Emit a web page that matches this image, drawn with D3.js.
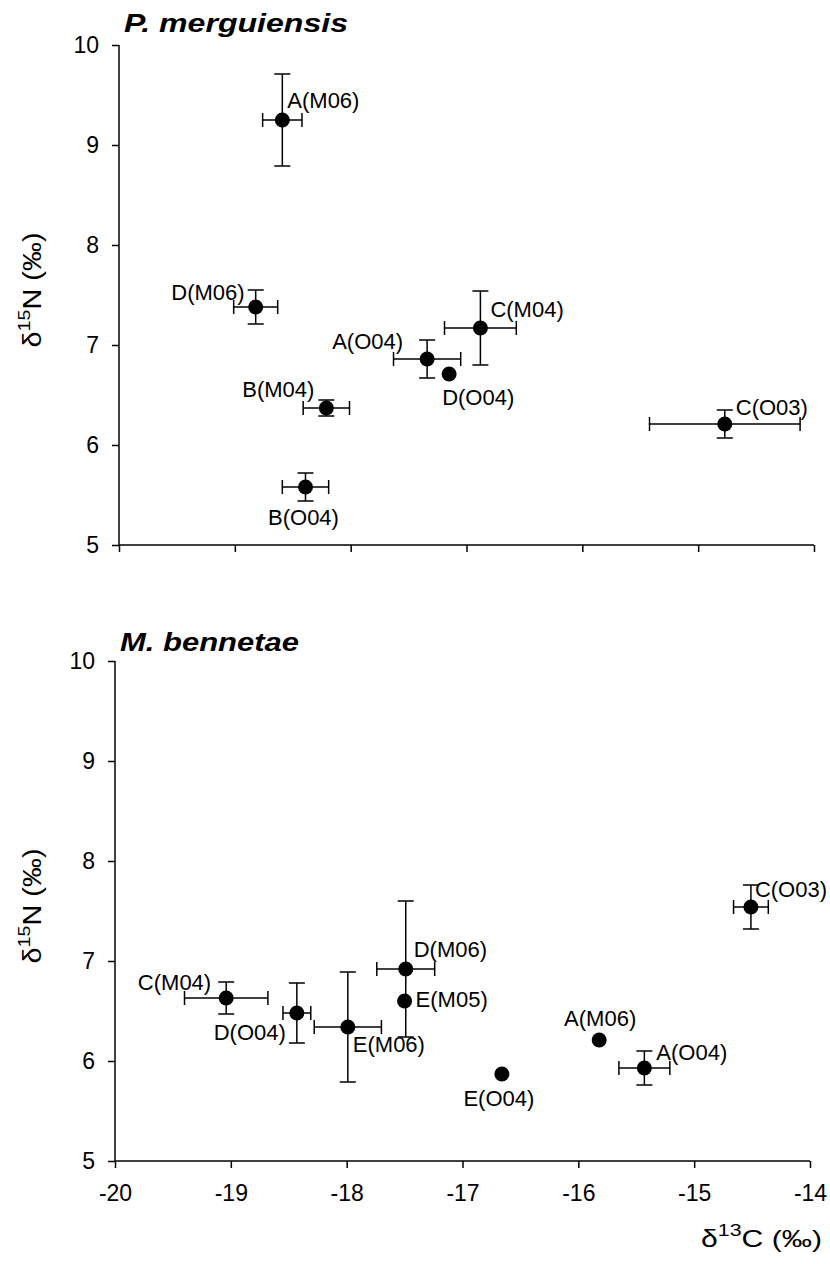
<!DOCTYPE html>
<html>
<head>
<meta charset="utf-8">
<script src="https://cdn.jsdelivr.net/npm/d3@7"></script>
<style>
  html, body { margin: 0; padding: 0; background: #fff; }
  svg { display: block; }
  text { font-family: "Liberation Sans", Arial, Helvetica, sans-serif; fill: #000; }
</style>
</head>
<body>
<svg id="chart" width="830" height="1264"></svg>
<script>
// ---------- Data ----------
const xTicks = [-20, -19, -18, -17, -16, -15, -14];
const yTicks = [5, 6, 7, 8, 9, 10];

// Panel 1: P. merguiensis
const pmLabels = ["A(M06)", "D(M06)", "B(M04)", "B(O04)", "A(O04)", "D(O04)", "C(M04)", "C(O03)"];
const pmC13    = [-18.59, -18.82, -18.21, -18.39, -17.34, -17.15, -16.88, -14.77];
const pmN15    = [9.25, 7.38, 6.37, 5.58, 6.86, 6.71, 7.17, 6.21];
const pmC13Err = [0.17, 0.19, 0.20, 0.20, 0.29, 0, 0.31, 0.65];
const pmN15Err = [0.46, 0.17, 0.08, 0.14, 0.19, 0, 0.37, 0.14];

// Panel 2: M. bennetae
const mbLabels = ["C(M04)", "D(O04)", "E(M06)", "D(M06)", "E(M05)", "E(O04)", "A(M06)", "A(O04)", "C(O03)"];
const mbC13    = [-19.04, -18.43, -17.99, -17.49, -17.50, -16.66, -15.82, -15.43, -14.51];
const mbN15    = [6.63, 6.48, 6.34, 6.92, 6.60, 5.87, 6.21, 5.93, 7.54];
const mbC13Err = [0.36, 0.12, 0.29, 0.25, 0, 0, 0, 0.22, 0.15];
const mbN15Err = [0.16, 0.30, 0.55, 0.68, 0, 0, 0, 0.17, 0.22];

// ---------- Label placement (layout only) ----------
const pmLabelPos = [
  {dx: 5, dy: -12, a: "start"}, {dx: -11, dy: -7, a: "end"}, {dx: -12, dy: -11, a: "end"},
  {dx: -2, dy: 38, a: "middle"}, {dx: -24, dy: -10, a: "end"}, {dx: -7, dy: 31, a: "start"},
  {dx: 10, dy: -11, a: "start"}, {dx: 11, dy: -9, a: "start"}
];
const mbLabelPos = [
  {dx: -15, dy: -8, a: "end"}, {dx: -11, dy: 27, a: "end"}, {dx: 5, dy: 25, a: "start"},
  {dx: 8, dy: -12, a: "start"}, {dx: 11, dy: 6, a: "start"}, {dx: -3, dy: 32, a: "middle"},
  {dx: 1, dy: -14, a: "middle"}, {dx: 12, dy: -8, a: "start"}, {dx: 9, dy: -10, a: "start"}
];

// ---------- Drawing ----------
const W = 830;
const svg = d3.select("#chart");
const tickFont = 23, labelFont = 22;

function panel(cfg) {
  const x = d3.scaleLinear().domain([-20, -14]).range([cfg.left, cfg.right]);
  const y = d3.scaleLinear().domain([5, 10]).range([cfg.bottom, cfg.top]);
  const g = svg.append("g");

  // y axis
  const yAxis = g.append("g").attr("transform", `translate(${cfg.left},0)`)
    .call(d3.axisLeft(y).tickValues(yTicks).tickSize(7).tickPadding(13).tickFormat(d3.format("d")));
  yAxis.select(".domain").attr("d", `M0,${cfg.top}V${cfg.bottom}`);
  // x axis
  const xAxis = g.append("g").attr("transform", `translate(0,${cfg.bottom})`)
    .call(d3.axisBottom(x).tickValues(xTicks).tickSize(7).tickPadding(17).tickFormat(cfg.xLabels ? d3.format("d") : () => ""));
  xAxis.select(".domain").attr("d", `M${cfg.left},0H${cfg.right}`);
  [yAxis, xAxis].forEach(a => {
    a.selectAll(".domain, line").attr("stroke", "#000").attr("stroke-width", 1.5);
    a.selectAll("text").attr("font-size", tickFont).attr("font-family", "Liberation Sans, Arial, sans-serif").attr("fill", "#000");
  });
  if (cfg.xLabels) xAxis.selectAll("text").text(d => String(d));

  // title
  g.append("text").attr("x", cfg.left + 5).attr("y", cfg.titleY)
    .attr("font-size", 25).attr("font-weight", "bold").attr("font-style", "italic")
    .attr("textLength", cfg.titleLen).attr("lengthAdjust", "spacingAndGlyphs")
    .text(cfg.title);

  // y label
  const yl = g.append("text")
    .attr("transform", `translate(41,${(y(10) + y(5)) / 2 - 5}) rotate(-90)`)
    .attr("text-anchor", "middle").attr("font-size", 25)
    .attr("textLength", 115).attr("lengthAdjust", "spacingAndGlyphs");
  yl.append("tspan").text("δ");
  yl.append("tspan").attr("font-size", 17).attr("dy", -11).text("15");
  yl.append("tspan").attr("dy", 11).text("N (‰)");

  const n = cfg.labels.length;
  const idx = d3.range(n);
  const capV = 8, capH = 7;
  const eb = g.append("g").attr("stroke", "#000").attr("stroke-width", 1.5);
  idx.forEach(i => {
    const cx = x(cfg.c13[i]), cy = y(cfg.n15[i]);
    if (cfg.c13Err[i] > 0) {
      const x0 = x(cfg.c13[i] - cfg.c13Err[i]), x1 = x(cfg.c13[i] + cfg.c13Err[i]);
      eb.append("line").attr("x1", x0).attr("x2", x1).attr("y1", cy).attr("y2", cy);
      eb.append("line").attr("x1", x0).attr("x2", x0).attr("y1", cy - capH).attr("y2", cy + capH);
      eb.append("line").attr("x1", x1).attr("x2", x1).attr("y1", cy - capH).attr("y2", cy + capH);
    }
    if (cfg.n15Err[i] > 0) {
      const y0 = y(cfg.n15[i] - cfg.n15Err[i]), y1 = y(cfg.n15[i] + cfg.n15Err[i]);
      eb.append("line").attr("x1", cx).attr("x2", cx).attr("y1", y0).attr("y2", y1);
      eb.append("line").attr("x1", cx - capV).attr("x2", cx + capV).attr("y1", y0).attr("y2", y0);
      eb.append("line").attr("x1", cx - capV).attr("x2", cx + capV).attr("y1", y1).attr("y2", y1);
    }
  });

  g.append("g").selectAll("circle").data(idx).join("circle")
    .attr("cx", i => x(cfg.c13[i])).attr("cy", i => y(cfg.n15[i])).attr("r", 7.5).attr("fill", "#000");

  g.append("g").selectAll("text").data(idx).join("text")
    .attr("x", i => x(cfg.c13[i]) + cfg.pos[i].dx)
    .attr("y", i => y(cfg.n15[i]) + cfg.pos[i].dy)
    .attr("text-anchor", i => cfg.pos[i].a)
    .attr("font-size", labelFont)
    .text(i => cfg.labels[i])
    .each(function () {
      // keep labels inside the canvas
      const bb = this.getBBox();
      const over = bb.x + bb.width - (W - 3);
      if (over > 0) d3.select(this).attr("x", +d3.select(this).attr("x") - over);
    });
}

panel({
  left: 119, right: 814, top: 45, bottom: 545, titleY: 32, titleLen: 224,
  title: "P. merguiensis", xLabels: false,
  labels: pmLabels, c13: pmC13, n15: pmN15, c13Err: pmC13Err, n15Err: pmN15Err, pos: pmLabelPos
});
panel({
  left: 115, right: 810, top: 661, bottom: 1161, titleY: 651, titleLen: 179,
  title: "M. bennetae", xLabels: true,
  labels: mbLabels, c13: mbC13, n15: mbN15, c13Err: mbC13Err, n15Err: mbN15Err, pos: mbLabelPos
});

// x label
const xl = svg.append("text").attr("x", 822).attr("y", 1247).attr("text-anchor", "end").attr("font-size", 24)
  .attr("textLength", 121).attr("lengthAdjust", "spacingAndGlyphs");
xl.append("tspan").text("δ");
xl.append("tspan").attr("font-size", 17).attr("dy", -11).text("13");
xl.append("tspan").attr("dy", 11).text("C (‰)");
</script>
</body>
</html>
